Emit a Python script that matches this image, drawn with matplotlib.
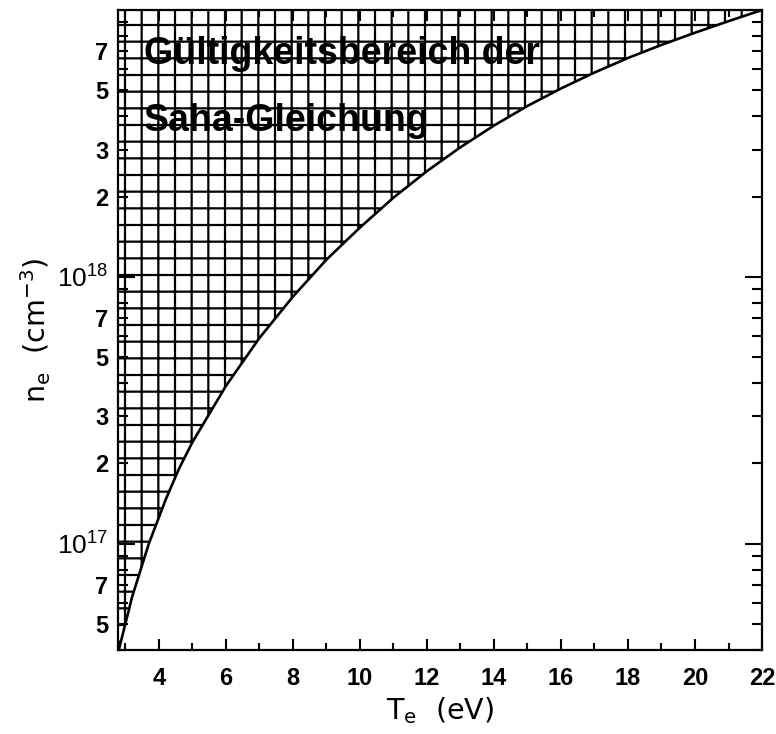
import numpy as np
import matplotlib
matplotlib.use('Agg')
import matplotlib.pyplot as plt

# Gültigkeitsgrenze der Saha-Gleichung
T_e = [2.8, 3.2, 3.7, 4.2, 4.6, 5, 6, 7, 8, 9, 10, 11, 12, 13, 14, 15,
       16, 17, 18, 19, 20, 21, 22]
n_e = [3.98e16, 6.31e16, 1.0e17, 1.46e17, 1.91e17, 2.40e17, 3.90e17,
       5.90e17, 8.43e17, 1.16e18, 1.53e18, 1.98e18, 2.49e18, 3.06e18,
       3.69e18, 4.37e18, 5.08e18, 5.83e18, 6.61e18, 7.40e18, 8.22e18,
       9.08e18, 1.0e19]

x_major = [4, 6, 8, 10, 12, 14, 16, 18, 20, 22]
x_minor = [3, 5, 7, 9, 11, 13, 15, 17, 19, 21]
y_major = [1e17, 1e18]
y_major_labels = ['10$^{17}$', '10$^{18}$']
y_minor = [4e16, 5e16, 6e16, 7e16, 8e16, 9e16,
           2e17, 3e17, 4e17, 5e17, 6e17, 7e17, 8e17, 9e17,
           2e18, 3e18, 4e18, 5e18, 6e18, 7e18, 8e18, 9e18]
y_minor_labels = ['', '5', '', '7', '', '',
                  '2', '3', '', '5', '', '7', '', '',
                  '2', '3', '', '5', '', '7', '', '']

tick_font = 'Liberation Sans'

plt.rcParams['font.family'] = ['DejaVu Sans']
plt.rcParams['mathtext.default'] = 'regular'
plt.rcParams['hatch.linewidth'] = 1.6

fig = plt.figure(figsize=(7.76, 7.34), dpi=100)
ax = fig.add_axes([0.152, 0.1144, 0.830, 0.872])

ax.set_yscale('log')
ax.set_xlim(2.78, 22)
ax.set_ylim(4e16, 1e19)

# schraffierter Bereich oberhalb der Kurve
ax.fill_between(T_e, n_e, 1e19, facecolor='none', edgecolor='black',
                hatch='+', linewidth=0)
ax.plot(T_e, n_e, color='black', lw=1.9)

ax.set_xticks(x_major)
ax.set_xticks(x_minor, minor=True)
ax.set_yticks(y_major, y_major_labels)
ax.set_yticks(y_minor, y_minor_labels, minor=True)

ax.tick_params(axis='both', which='both', direction='in', top=True, right=True,
               width=1.5, colors='black')
ax.tick_params(axis='x', which='major', length=8, pad=12)
ax.tick_params(axis='x', which='minor', length=5)
ax.tick_params(axis='y', which='major', length=12, pad=7)
ax.tick_params(axis='y', which='minor', length=7, pad=7)

for lab in ax.get_xticklabels() + ax.get_yticklabels(minor=True):
    lab.set_fontfamily(tick_font)
    lab.set_fontweight('bold')
    lab.set_fontsize(17)
for lab in ax.get_yticklabels():
    lab.set_fontfamily(tick_font)
    lab.set_fontsize(19)

for sp in ax.spines.values():
    sp.set_linewidth(1.6)

ax.set_xlabel('T$_e$  (eV)', fontsize=20.5, labelpad=4)
ax.set_ylabel('n$_e$  (cm$^{-3}$)', fontsize=20.5, labelpad=3)

ax.text(0.04, 0.932, 'Gültigkeitsbereich der', transform=ax.transAxes,
        fontsize=27, family=tick_font, fontweight='bold', va='center', ha='left')
ax.text(0.04, 0.827, 'Saha-Gleichung', transform=ax.transAxes,
        fontsize=27, family=tick_font, fontweight='bold', va='center', ha='left')

fig.savefig('out.png', dpi=100)
